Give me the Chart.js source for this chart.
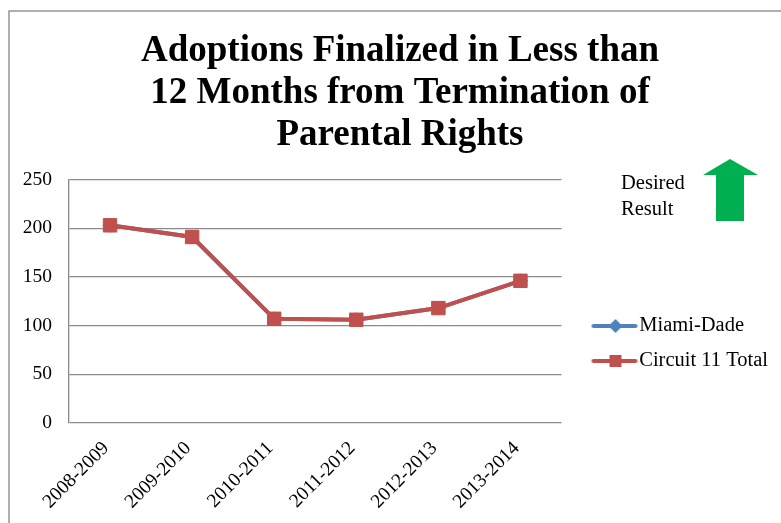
<!DOCTYPE html>
<html>
<head>
<meta charset="utf-8">
<script src="https://cdn.jsdelivr.net/npm/chart.js@4/dist/chart.umd.min.js"></script>
<style>
  html, body { margin: 0; padding: 0; background: #fff; }
  #chart { display: block; }
</style>
</head>
<body>
<canvas id="chart" width="781" height="523"></canvas>
<script>
const years = ['2008-2009', '2009-2010', '2010-2011', '2011-2012', '2012-2013', '2013-2014'];
const miamiDade = [203, 191, 107, 106, 118, 146];
const circuit11 = [203, 191, 107, 106, 118, 146];
const yTicks = [0, 50, 100, 150, 200, 250];
const titleLines = ['Adoptions Finalized in Less than', '12 Months from Termination of', 'Parental Rights'];

const SERIF = '"Liberation Serif", "Times New Roman", serif';
const BLUE = '#4F81BD';
const RED = '#C0504D';

// legend icon: short thick line with the marker in the middle (transparent margin on the left)
const makeIcon = (color, shape) => {
    const c = document.createElement('canvas');
    c.width = 80; c.height = 16;
    const g = c.getContext('2d');
    g.strokeStyle = color;
    g.lineWidth = 4;
    g.lineCap = 'round';
    g.beginPath(); g.moveTo(31, 8); g.lineTo(73, 8); g.stroke();
    g.fillStyle = color;
    if (shape === 'diamond') {
        g.beginPath(); g.moveTo(53, 1); g.lineTo(60, 8); g.lineTo(53, 15); g.lineTo(46, 8); g.closePath(); g.fill();
    } else {
        g.fillRect(47, 2, 12, 12);
    }
    return c;
};

// chart frame + "Desired Result" arrow
const decorations = {
    id: 'decorations',
    beforeDraw(chart) {
        const ctx = chart.ctx;
        ctx.save();
        ctx.fillStyle = '#fff';
        ctx.fillRect(0, 0, chart.width, chart.height);
        ctx.strokeStyle = '#959595';
        ctx.lineWidth = 1.5;
        ctx.strokeRect(9, 11, 900, 700);
        ctx.restore();
    },
    afterDraw(chart) {
        const ctx = chart.ctx;
        ctx.save();
        ctx.fillStyle = '#000';
        ctx.font = '20.5px ' + SERIF;
        ctx.textBaseline = 'alphabetic';
        ctx.fillText('Desired', 621, 189);
        ctx.fillText('Result', 621, 215);
        ctx.fillStyle = '#00B050';
        ctx.beginPath();
        ctx.moveTo(730, 159);
        ctx.lineTo(758, 175);
        ctx.lineTo(744, 175);
        ctx.lineTo(744, 221);
        ctx.lineTo(716, 221);
        ctx.lineTo(716, 175);
        ctx.lineTo(703, 175);
        ctx.closePath();
        ctx.fill();
        ctx.restore();
    }
};

new Chart(document.getElementById('chart'), {
    type: 'line',
    data: {
        labels: years,
        datasets: [
            {
                label: 'Miami-Dade',
                data: miamiDade,
                borderColor: BLUE,
                backgroundColor: BLUE,
                borderWidth: 4,
                pointStyle: 'rectRot',
                pointRadius: 7,
                pointBorderWidth: 1,
                order: 1,
                icon: makeIcon(BLUE, 'diamond')
            },
            {
                label: 'Circuit 11 Total',
                data: circuit11,
                borderColor: RED,
                backgroundColor: RED,
                borderWidth: 4,
                pointStyle: 'rect',
                pointRadius: 9.5,
                pointBorderWidth: 1,
                order: 0,
                icon: makeIcon(RED, 'square')
            }
        ]
    },
    options: {
        responsive: false,
        animation: false,
        layout: { padding: { left: 22, right: 3, top: 0, bottom: 0 } },
        scales: {
            x: {
                offset: true,
                grid: { display: false, drawTicks: false },
                border: { display: false },
                ticks: {
                    color: '#000',
                    font: { family: SERIF, size: 19.5 },
                    minRotation: 45,
                    maxRotation: 45,
                    padding: 14,
                    labelOffset: -4
                },
                afterFit: (scale) => { scale.height = 100; }
            },
            y: {
                min: 0,
                max: 250,
                afterBuildTicks: (scale) => { scale.ticks = yTicks.map(v => ({ value: v })); },
                grid: { color: '#8a8a8a', lineWidth: 1.3, drawTicks: false },
                border: { display: true, color: '#8a8a8a', width: 1.3 },
                ticks: {
                    color: '#000',
                    font: { family: SERIF, size: 19.5 },
                    padding: 17
                },
                afterFit: (scale) => { scale.width = 47; }
            }
        },
        plugins: {
            title: {
                display: true,
                text: titleLines,
                color: '#000',
                font: { family: SERIF, size: 37, weight: 'bold', lineHeight: 1.14 },
                padding: { top: 30, bottom: 23 }
            },
            legend: {
                position: 'right',
                maxWidth: 300,
                title: {
                    display: true,
                    text: ' ',
                    padding: { top: 140, bottom: 0 },
                    font: { family: SERIF, size: 20 }
                },
                labels: {
                    color: '#000',
                    font: { family: SERIF, size: 20.5 },
                    usePointStyle: true,
                    pointStyleWidth: 53,
                    padding: 14.5,
                    sort: (a, b) => a.datasetIndex - b.datasetIndex,
                    generateLabels: (chart) => chart.data.datasets.map((ds, i) => ({
                        text: ds.label,
                        fillStyle: ds.backgroundColor,
                        strokeStyle: ds.borderColor,
                        pointStyle: ds.icon,
                        lineWidth: 0,
                        hidden: false,
                        datasetIndex: i,
                        fontColor: '#000'
                    }))
                }
            },
            tooltip: { enabled: false }
        }
    },
    plugins: [decorations]
});
</script>
</body>
</html>
